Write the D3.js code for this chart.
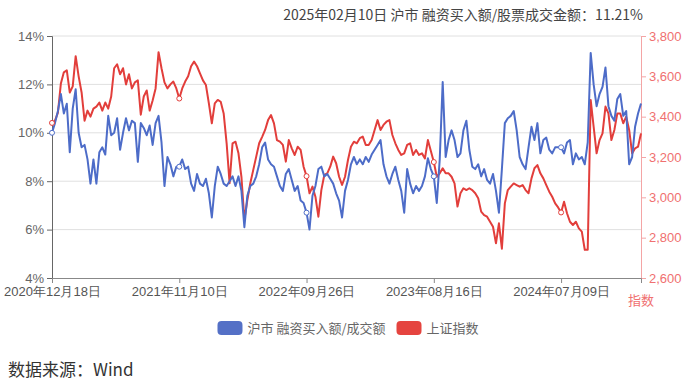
<!DOCTYPE html>
<html>
<head>
<meta charset="utf-8">
<script src="https://cdn.jsdelivr.net/npm/d3@7"></script>
<style>
  html, body { margin: 0; padding: 0; background: #fff; }
  svg { display: block; font-family: "Noto Sans CJK SC", "Noto Sans", sans-serif; }
</style>
</head>
<body>
<div id="chart"></div>
<script>
// 沪市 融资买入额/成交额 (%), one sample per week, 2020-12-18 .. 2025-02-10
const marginRatio = [
  10.0, 10.4, 10.9, 11.6, 10.8, 11.2, 9.2, 11.0, 11.8, 10.0,
  9.4, 9.5, 8.9, 7.9, 8.9, 7.9, 9.2, 9.4, 9.1, 10.7,
  9.9, 10.0, 10.6, 9.3, 10.0, 10.6, 10.1, 10.5, 10.4, 8.8,
  10.4, 10.2, 9.9, 10.3, 9.5, 10.4, 10.7, 9.6, 7.8, 9.0,
  8.7, 8.2, 8.6, 8.6, 8.9, 8.5, 8.6, 7.9, 7.6, 8.3,
  7.9, 7.8, 8.1, 7.5, 6.5, 7.8, 8.6, 8.3, 7.9, 7.8,
  8.0, 8.2, 7.8, 8.2, 7.6, 6.1, 7.4, 7.8, 7.9, 8.2,
  8.7, 9.4, 9.6, 8.9, 8.7, 8.6, 8.2, 7.8, 7.6, 8.3,
  8.5, 8.05, 7.6, 7.8, 7.2, 7.1, 6.7, 6.0, 7.4, 7.8,
  8.5, 8.6, 8.2, 8.3, 8.1, 7.9, 7.5, 7.2, 6.5, 7.6,
  8.05, 8.7, 9.0, 8.7, 8.9, 8.7, 9.0, 8.8, 9.1, 9.3,
  9.5, 9.7, 8.7, 8.2, 7.9, 8.3, 8.6, 8.05, 7.6, 6.7,
  8.5, 7.9, 7.5, 7.8, 7.6, 7.8, 8.2, 8.95, 8.5, 8.2,
  7.1, 8.9, 12.1, 9.0, 9.7, 10.1, 9.7, 9.0, 9.15, 10.1,
  10.5, 9.3, 8.6, 8.5, 8.7, 8.2, 8.5, 8.05, 7.9, 8.3,
  7.6, 6.7, 8.5, 10.4, 10.6, 10.7, 10.9, 10.1, 9.0, 8.7,
  8.5, 9.4, 10.25, 9.7, 10.4, 9.15, 9.7, 9.8, 9.3, 9.15,
  9.4, 9.4, 9.4, 9.15, 9.6, 9.7, 8.7, 9.15, 8.9, 9.0,
  8.7, 9.6, 13.3, 12.0, 11.1, 11.6, 11.9, 12.7, 11.1, 10.7,
  10.5, 11.4, 11.6, 10.7, 10.9, 8.7, 9.0, 10.25, 10.8, 11.21
];

// 上证指数, same samples
const shIndex = [
  3369, 3380, 3420, 3565, 3620, 3630, 3520, 3550, 3700, 3600,
  3520, 3380, 3430, 3400, 3440, 3450, 3470, 3430, 3470, 3440,
  3500, 3640, 3660, 3610, 3640, 3560, 3610, 3540, 3570, 3580,
  3410, 3500, 3530, 3430, 3480, 3540, 3720, 3640, 3570, 3540,
  3560, 3574, 3540, 3490, 3540, 3574, 3600, 3650, 3673, 3650,
  3615, 3580, 3557, 3466, 3367, 3466, 3483, 3474, 3416, 3268,
  3070, 3268, 3276, 3218, 3102, 2888, 2987, 3070, 3136, 3202,
  3268, 3300, 3334, 3383, 3408, 3367, 3284, 3276, 3260, 3177,
  3284, 3243, 3210, 3251, 3235, 3152, 3105, 3020, 3053, 3003,
  2904, 3036, 3111, 3119, 3152, 3202, 3169, 3102, 3061, 3102,
  3185, 3251, 3276, 3268, 3293, 3301, 3260, 3260, 3284, 3334,
  3383, 3334, 3359, 3375, 3383, 3309, 3268, 3235, 3210, 3218,
  3260, 3268, 3210, 3235, 3210, 3218, 3193, 3284, 3230, 3175,
  3102, 3119, 3144, 3119, 3119, 3102, 3069, 2954, 3020, 3045,
  3036, 3045, 3036, 3020, 2995, 2929, 2912, 2904, 2879, 2854,
  2772, 2871, 2745, 2970, 3036, 3053, 3069, 3061, 3053, 3061,
  3036, 3020, 3094, 3144, 3160, 3119, 3094, 3061, 3028, 3003,
  2970, 2950, 2925, 2978, 2921, 2879, 2863, 2879, 2846, 2830,
  2740, 2740, 3483, 3350, 3218, 3284, 3317, 3450, 3416, 3284,
  3334, 3416, 3416, 3367, 3400, 3334, 3218, 3243, 3251, 3317
];

const xTickIndex = [0, 43, 86, 129, 172];
const xTickLabels = ['2020年12月18日', '2021年11月10日', '2022年09月26日', '2023年08月16日', '2024年07月09日'];
const leftTicks = [4, 6, 8, 10, 12, 14];
const rightTicks = [2600, 2800, 3000, 3200, 3400, 3600, 3800];
const seriesNames = ['沪市 融资买入额/成交额', '上证指数'];
const titleText = '2025年02月10日 沪市 融资买入额/股票成交金额：11.21%';

const width = 688, height = 381;
const plotLeft = 52, plotRight = 641, plotTop = 36, plotBottom = 278;
const blue = '#4d6cc8', red = '#e23e3b';

const svg = d3.select('#chart').append('svg')
  .attr('width', width)
  .attr('height', height);

const x = d3.scaleLinear().domain([0, marginRatio.length - 1]).range([plotLeft, plotRight]);
const yL = d3.scaleLinear().domain([4, 14]).range([plotBottom, plotTop]);
const yR = d3.scaleLinear().domain([2600, 3800]).range([plotBottom, plotTop]);

// grid
svg.append('g')
  .selectAll('line')
  .data(leftTicks.slice(1))
  .join('line')
  .attr('x1', plotLeft).attr('x2', plotRight)
  .attr('y1', d => yL(d)).attr('y2', d => yL(d))
  .attr('stroke', '#e0e0e0')
  .attr('stroke-width', 1);

// axes
const gL = svg.append('g')
  .attr('transform', `translate(${plotLeft},0)`)
  .call(d3.axisLeft(yL).tickValues(leftTicks).tickFormat(d => d + '%').tickSize(5).tickPadding(3));
gL.select('.domain').attr('stroke', '#666');
gL.selectAll('.tick line').attr('stroke', '#666');
gL.selectAll('text').attr('fill', '#666').style('font-size', '13px');

const gR = svg.append('g')
  .attr('transform', `translate(${plotRight},0)`)
  .call(d3.axisRight(yR).tickValues(rightTicks).tickFormat(d3.format(',')).tickSize(5).tickPadding(3));
gR.select('.domain').attr('stroke', '#f4a5a5');
gR.selectAll('.tick line').attr('stroke', '#f4a5a5');
gR.selectAll('text').attr('fill', '#f07070').style('font-size', '13px');

const gB = svg.append('g')
  .attr('transform', `translate(0,${plotBottom})`)
  .call(d3.axisBottom(x).tickValues(xTickIndex).tickFormat((d, i) => xTickLabels[i]).tickSize(5).tickPadding(4));
gB.select('.domain').attr('stroke', '#888');
gB.selectAll('.tick line').attr('stroke', '#888');
gB.selectAll('text').attr('fill', '#555').style('font-size', '13px');

svg.append('text')
  .attr('x', plotRight)
  .attr('y', 305)
  .attr('text-anchor', 'middle')
  .attr('fill', '#f07070')
  .style('font-size', '13px')
  .text('指数');

// lines
const lineR = d3.line().x((d, i) => x(i)).y(d => yR(d));
const lineL = d3.line().x((d, i) => x(i)).y(d => yL(d));

svg.append('path')
  .datum(shIndex)
  .attr('d', lineR)
  .attr('fill', 'none')
  .attr('stroke', red)
  .attr('stroke-width', 2)
  .attr('stroke-linejoin', 'round');

svg.append('path')
  .datum(marginRatio)
  .attr('d', lineL)
  .attr('fill', 'none')
  .attr('stroke', blue)
  .attr('stroke-width', 2)
  .attr('stroke-linejoin', 'round');

// hollow symbols at the labelled categories
svg.append('g').selectAll('circle')
  .data(xTickIndex)
  .join('circle')
  .attr('cx', d => x(d)).attr('cy', d => yR(shIndex[d]))
  .attr('r', 2.5).attr('fill', '#fff').attr('stroke', red);
svg.append('g').selectAll('circle')
  .data(xTickIndex)
  .join('circle')
  .attr('cx', d => x(d)).attr('cy', d => yL(marginRatio[d]))
  .attr('r', 2.5).attr('fill', '#fff').attr('stroke', blue);

// title
svg.append('text')
  .attr('x', 643)
  .attr('y', 20)
  .attr('text-anchor', 'end')
  .attr('fill', '#444')
  .style('font-size', '14px')
  .text(titleText);

// legend
const legend = svg.append('g');
const legendColors = ['#5470c6', '#e5443f'];
let lx = 0;
seriesNames.forEach((name, i) => {
  const item = legend.append('g').attr('transform', `translate(${lx},0)`);
  item.append('rect')
    .attr('x', 0).attr('y', -7)
    .attr('width', 25).attr('height', 14)
    .attr('rx', 4)
    .attr('fill', legendColors[i]);
  const t = item.append('text')
    .attr('x', 30).attr('y', 5)
    .attr('fill', '#666')
    .style('font-size', '13px')
    .text(name);
  lx += 30 + t.node().getComputedTextLength() + 11;
});
const legendW = lx - 11;
legend.attr('transform', `translate(${348 - legendW / 2},328)`);

// source
svg.append('text')
  .attr('x', 8)
  .attr('y', 376)
  .attr('fill', '#333')
  .style('font-size', '17px')
  .text('数据来源：Wind');
</script>
</body>
</html>
